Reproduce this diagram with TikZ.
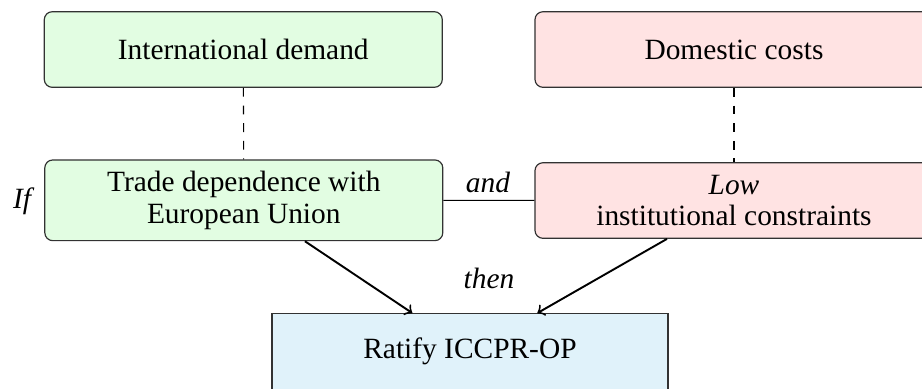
\documentclass[tikz,border=0pt]{standalone}
\usepackage{fontspec}
\setmainfont{Liberation Serif}
\definecolor{boxgreen}{RGB}{226,253,226}
\definecolor{boxpink}{RGB}{255,227,227}
\definecolor{boxblue}{RGB}{224,242,250}
\definecolor{boxline}{RGB}{50,50,50}
\begin{document}
\begin{tikzpicture}[x=0.34pt,y=-0.34pt,
  every node/.style={font=\fontsize{10pt}{10.8pt}\selectfont, inner sep=0pt},
  rbox/.style={draw=boxline, line width=0.4pt, rounded corners=2.7pt, align=center,
    minimum width=398*0.34pt},
  greenbox/.style={rbox, fill=boxgreen},
  pinkbox/.style={rbox, fill=boxpink},
  resultbox/.style={draw=boxline, line width=0.4pt, fill=boxblue, align=center,
    minimum width=396*0.34pt, minimum height=76*0.34pt},
  lbl/.style={font=\fontsize{10pt}{10.8pt}\selectfont\itshape},
  conn/.style={line width=0.35pt, black},
  arr/.style={->, line width=0.65pt, black}]
\useasboundingbox (0,0) rectangle (922,388);
\clip (0,0) rectangle (922,388);
\node[greenbox, minimum height=75.6*0.34pt] (b1) at (243.3,49.5) {International demand};
\node[pinkbox, minimum height=75.6*0.34pt] (b2) at (734,49.5) {Domestic costs};
\node[greenbox, minimum height=80.7*0.34pt] (b3) at (243.8,200.3) {Trade dependence with\\European Union};
\node[pinkbox, minimum height=75.6*0.34pt] (b4) at (734,200.5) {\textit{Low}\\institutional constraints};
\node[resultbox] (b5) at (470,351.7) {Ratify ICCPR-OP};
\node[lbl] (lif) at (22,201) {If};
\node[lbl] (land) at (488,182) {and};
\node[lbl] (lthen) at (489,278) {then};
\draw[conn, dashed] (b1) -- (b3);
\draw[conn, dashed] (b2) -- (b4);
\draw[conn] (b3) -- (b4);
\draw[arr] (b3) -- (b5);
\draw[arr] (b4) -- (b5);
\end{tikzpicture}
\end{document}
